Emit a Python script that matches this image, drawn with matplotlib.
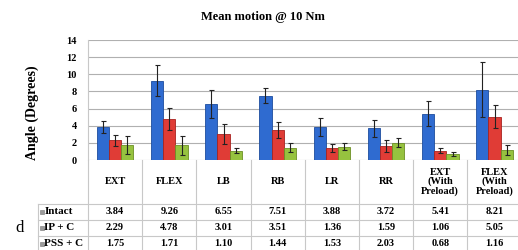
import matplotlib.pyplot as plt
import numpy as np
from matplotlib.patches import Rectangle


categories = ["EXT", "FLEX", "LB", "RB", "LR", "RR",
              "EXT\n(With\nPreload)", "FLEX\n(With\nPreload)"]
series_names = ["Intact", "IP + C", "PSS + C"]

intact = [3.84, 9.26, 6.55, 7.51, 3.88, 3.72, 5.41, 8.21]
ip_c = [2.29, 4.78, 3.01, 3.51, 1.36, 1.59, 1.06, 5.05]
pss_c = [1.75, 1.71, 1.10, 1.44, 1.53, 2.03, 0.68, 1.16]

# standard deviations
intact_err = [0.7, 1.8, 1.6, 0.85, 1.05, 1.0, 1.5, 3.2]
ip_c_err = [0.6, 1.3, 1.15, 0.9, 0.45, 0.7, 0.3, 1.35]
pss_c_err = [1.05, 1.1, 0.3, 0.55, 0.4, 0.55, 0.2, 0.55]

colors = ["#2f6bd0", "#e03c36", "#96c23f"]
edges = ["#1d4d9e", "#a8231f", "#6c8f25"]

W, H = 518, 250
plt.rcParams["font.family"] = ["Liberation Serif", "DejaVu Serif"]

fig = plt.figure(figsize=(W / 100, H / 100), dpi=100)

# chart area in pixels
x0, x1 = 88, 521.6
y_top, y_bot = 40, 160
ax = fig.add_axes([x0 / W, 1 - y_bot / H, (x1 - x0) / W, (y_bot - y_top) / H])

values = [intact, ip_c, pss_c]
errors = [intact_err, ip_c_err, pss_c_err]
x = np.arange(len(categories))
bw = 0.226
for i, (vals, errs) in enumerate(zip(values, errors)):
    ax.bar(x + (i - 1) * bw, vals, bw, color=colors[i], edgecolor=edges[i],
           linewidth=0.6, yerr=errs, capsize=1.8,
           error_kw=dict(ecolor="#222222", elinewidth=0.8, capthick=0.8),
           zorder=3)

ax.set_xlim(-0.5, len(categories) - 0.5)
ax.set_ylim(0, 14)
ax.set_yticks(range(0, 15, 2))
ax.grid(axis="y", color="#b0b0b0", linewidth=0.8, zorder=0)
ax.set_xticks([])
for s in ["top", "right", "bottom"]:
    ax.spines[s].set_visible(False)
ax.spines["left"].set_color("#c8c8c8")
ax.tick_params(axis="y", length=0, pad=8, labelsize=7.5)
for lbl in ax.get_yticklabels():
    lbl.set_fontweight("bold")

# overlay axes in pixel coordinates for the title, labels and data table
ov = fig.add_axes([0, 0, 1, 1], facecolor="none")
ov.set_xlim(0, W)
ov.set_ylim(H, 0)
ov.axis("off")

ov.text(263, 17, "Mean motion @ 10 Nm", ha="center", va="center",
        fontsize=9, fontweight="bold")
ov.text(32, 113, "Angle (Degrees)", rotation=90, ha="center", va="center",
        fontsize=10, fontweight="bold")
ov.text(20, 228, "d", ha="center", va="center", fontsize=12)

line_kw = dict(color="#c8c8c8", linewidth=0.8)
col_w = (x1 - x0) / len(categories)
row_edges = [160, 204, 220, 236, 252]
for k in range(len(categories) + 1):
    ov.plot([x0 + k * col_w] * 2, [160, 252], **line_kw)
ov.plot([38, 38], [204, 252], **line_kw)
for yy in row_edges[1:-1]:
    ov.plot([38, x1], [yy, yy], **line_kw)

for k, cat in enumerate(categories):
    ov.text(x0 + (k + 0.5) * col_w, 182, cat, ha="center", va="center",
            fontsize=7.5, fontweight="bold", linespacing=1.0)

for r, (name, vals) in enumerate(zip(series_names, values)):
    yc = (row_edges[r + 1] + row_edges[r + 2]) / 2
    ov.add_patch(Rectangle((40, yc - 1.8), 3.6, 3.6, facecolor="#9a9a9a",
                           edgecolor="#777777", linewidth=0.4))
    ov.text(44.5, yc, name, ha="left", va="center", fontsize=8,
            fontweight="bold")
    for k, v in enumerate(vals):
        ov.text(x0 + (k + 0.5) * col_w, yc, f"{v:.2f}", ha="center",
                va="center", fontsize=7.5, fontweight="bold")

fig.savefig("out.png", dpi=100)
